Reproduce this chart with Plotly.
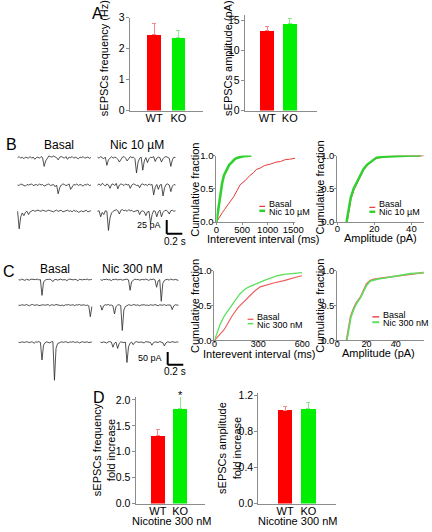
import plotly.graph_objects as go

W, H = 432, 532
FONT = "Liberation Sans, Arial, sans-serif"

# ---------------- data ----------------
groups = ["WT", "KO"]
freq_mean = [2.45, 2.35]
freq_sem = [0.35, 0.24]
amp_mean = [13.3, 14.5]
amp_sem = [0.75, 0.8]
fold_freq_mean = [1.31, 1.83]
fold_freq_sem = [0.11, 0.23]
fold_amp_mean = [1.03, 1.05]
fold_amp_sem = [0.04, 0.07]

# cumulative distributions, panel B (Nic 10 uM)
b_int_basal_x = [0, 30, 60, 114, 160, 209, 270, 336, 400, 462, 557, 652, 720, 778, 850, 937, 1050, 1158, 1250, 1348, 1430, 1506, 1540]
b_int_basal_y = [0, 0.04, 0.08, 0.14, 0.19, 0.24, 0.31, 0.38, 0.47, 0.56, 0.62, 0.70, 0.74, 0.79, 0.81, 0.85, 0.87, 0.90, 0.91, 0.94, 0.945, 0.955, 0.96]
b_int_nic_x = [0, 20, 38, 60, 82, 110, 146, 180, 209, 250, 304, 350, 399, 450, 525, 600, 683]
b_int_nic_y = [0, 0.10, 0.21, 0.34, 0.46, 0.58, 0.70, 0.76, 0.80, 0.86, 0.90, 0.94, 0.965, 0.98, 0.99, 0.995, 1.0]
b_amp_basal_x = [5.3, 6.2, 7.4, 9.0, 10.8, 12.5, 14.3, 16.0, 17.8, 19.5, 21.5, 25, 30, 35, 40, 46.5]
b_amp_basal_y = [0, 0.15, 0.35, 0.49, 0.60, 0.70, 0.79, 0.85, 0.90, 0.94, 0.96, 0.98, 0.99, 0.995, 1.0, 1.0]
b_amp_nic_x = [5.0, 5.9, 7.2, 8.8, 10.7, 12.4, 14.2, 16.0, 17.7, 19.5, 21.2, 25, 30, 35, 40, 45]
b_amp_nic_y = [0, 0.15, 0.36, 0.50, 0.61, 0.71, 0.80, 0.86, 0.90, 0.94, 0.97, 0.98, 0.99, 0.995, 1.0, 1.0]

# cumulative distributions, panel C (Nic 300 nM)
c_int_basal_x = [0, 20, 40, 63, 85, 120, 161, 200, 237, 275, 313, 360, 411, 476, 520, 574, 600]
c_int_basal_y = [0, 0.05, 0.10, 0.145, 0.22, 0.35, 0.47, 0.55, 0.64, 0.71, 0.77, 0.80, 0.83, 0.86, 0.89, 0.92, 0.93]
c_int_nic_x = [0, 20, 41, 70, 106, 140, 171, 200, 226, 260, 302, 350, 389, 430, 476, 530, 574, 600]
c_int_nic_y = [0, 0.12, 0.24, 0.36, 0.47, 0.57, 0.66, 0.72, 0.76, 0.79, 0.83, 0.87, 0.90, 0.93, 0.95, 0.96, 0.97, 0.975]
c_amp_basal_x = [6.3, 7.5, 9.1, 11, 13, 15.8, 18, 20, 22.4, 25, 28, 31.3, 35, 40, 44.7, 50, 56.7, 59]
c_amp_basal_y = [0, 0.15, 0.34, 0.45, 0.54, 0.62, 0.73, 0.81, 0.86, 0.88, 0.89, 0.90, 0.91, 0.93, 0.94, 0.96, 0.97, 0.975]
c_amp_nic_x = [6.6, 7.7, 9.3, 11.2, 13.2, 15.8, 18, 20, 22.4, 25, 28, 30.5, 32, 35, 40, 44.7, 50, 56.7, 59]
c_amp_nic_y = [0, 0.14, 0.33, 0.44, 0.53, 0.61, 0.71, 0.79, 0.85, 0.87, 0.885, 0.89, 0.895, 0.91, 0.93, 0.94, 0.96, 0.97, 0.975]

# current traces (pA), sampled every 0.02 s
trace_dt = 0.02
b_basal_1 = [0,2,-1,1,-2,1,0,-1,2,-1,1,-3,0,1,-1,2,0,-16,-6,-1,3,2,1,3,2,0,-4,1,2,0,-1,2,-3,1,0,2,-1,1,0,-2,1,0,2,-1,0,1,-1,0]
b_nic_1 = [1,-1,2,0,-2,1,-14,-4,0,2,-1,1,0,-3,-8,-2,1,2,-1,-6,-1,2,0,1,-2,-28,-8,-1,1,-23,-6,0,-9,-2,1,0,2,-7,-1,1,0,-8,-2,1,2,0,-1,-16,-4,1,0]
b_basal_2 = [0,-1,2,1,0,-2,1,0,1,2,-1,0,1,-1,2,0,1,-2,0,1,2,-1,0,1,-3,0,-16,-5,0,2,1,-1,0,2,-8,-2,1,0,2,-1,1,0,-2,1,0,2,-1,0]
b_nic_2 = [0,2,-1,3,1,-2,2,0,-6,1,2,-1,3,-7,0,2,1,-1,2,0,1,-6,0,2,1,-1,0,-5,1,2,0,1,-1,2,0,1,-18,-4,1,-8,0,1,-20,-5,1,2,0,-12,-2,1,0]
b_basal_3 = [0,-32,-10,-3,-8,-2,0,-6,-1,1,2,0,1,2,1,0,2,1,0,1,2,1,0,-1,1,2,0,1,2,-1,0,1,2,0,1,-1,2,0,1,-2,0,1,-1,0,2,-1,0,1]
b_nic_3 = [0,1,-10,-2,-6,1,0,-35,-12,-3,0,2,3,1,-5,2,3,1,2,0,3,1,2,-1,0,1,2,-6,0,1,-1,-8,-1,0,-22,-6,1,0,-10,-1,2,-10,-2,1,2,0,-5,1,2,0,1]
c_basal_1 = [0,-2,2,0,-3,1,0,-2,2,1,-1,0,2,-1,0,-62,-10,-2,1,0,2,-1,-8,0,1,-2,0,2,-1,1,0,-4,1,2,0,-1,1,0,-5,2,0,-1,1,0,2,-1,0,1]
c_nic_1 = [0,-3,1,0,2,-1,0,-4,1,0,2,-1,0,1,-2,0,1,2,-1,-42,-8,-1,2,0,1,-2,0,1,-1,2,0,-3,1,0,2,-1,-30,-5,0,-85,-15,-3,0,1,-2,2,0,-1,1,0,-3]
c_basal_2 = [0,-2,1,0,-1,2,0,-3,1,2,-1,0,1,-2,0,2,1,-1,0,2,-3,1,0,-1,2,0,1,-2,0,-3,1,0,2,-1,0,1,-2,1,0,2,-1,0,1,-2,0,-3,-46,-6]
c_nic_2 = [0,-20,-3,1,0,2,-1,0,-3,-35,-6,0,1,-2,-100,-20,-6,-1,1,0,-2,2,0,-1,1,-3,0,2,1,-1,0,-2,1,0,-1,2,0,-3,1,0,-1,2,-2,0,1,0,-18,-3,1,0,-1]
c_basal_3 = [0,-2,1,0,-1,2,0,-2,1,0,-4,1,0,2,-1,-70,-12,-2,1,0,-3,1,2,-150,-25,-6,-2,0,1,-1,2,0,-2,1,0,2,-1,0,1,-3,0,2,-1,0,1,-2,0,1]
c_nic_3 = [0,-2,1,0,-3,1,2,0,-20,-4,0,-25,-5,1,0,-2,0,-80,-18,-4,0,-10,-1,2,0,-1,1,0,-3,2,0,1,-1,-12,-2,1,0,-1,2,0,-2,-15,-3,1,0,-1,2,0,-1,1,0]

# ---------------- helpers ----------------
def xd(a, b):
    return [a / W, b / W]

def yd(top, bottom):
    return [1 - bottom / H, 1 - top / H]

def px(x):
    return x / W

def py(y):
    return 1 - y / H

def aid(i):
    return "" if i == 1 else str(i)

fig = go.Figure()
layout = {}
annotations = []
shapes = []

AXC = "#8c8c8c"
RED, GREEN = "#ff0000", "#00ee00"
ERR_RED, ERR_GREEN = "#f28a8a", "#8ee88e"

def ann(text, x, y, size=10, angle=0, xanchor="center", yanchor="middle", xref="paper", yref="paper"):
    annotations.append(dict(text=text, x=x, y=y, xref=xref, yref=yref, showarrow=False,
                            textangle=angle, xanchor=xanchor, yanchor=yanchor,
                            font=dict(size=size, color="black", family=FONT)))

def bar_axes(i, xdom, ydom, xrange, yrange, tickvals, tickfmt=None):
    layout["xaxis" + aid(i)] = dict(domain=xdom, range=xrange, anchor="y" + aid(i),
                                    showline=True, linecolor=AXC, linewidth=1, ticks="",
                                    tickvals=[0, 1], ticktext=groups, showgrid=False, zeroline=False,
                                    ticklabelstandoff=-3,
                                    tickfont=dict(size=11, family=FONT, color="black"))
    layout["yaxis" + aid(i)] = dict(domain=ydom, range=yrange, anchor="x" + aid(i),
                                    showline=True, linecolor=AXC, linewidth=1, ticks="outside",
                                    ticklen=3, tickcolor=AXC, tickvals=tickvals, tickformat=tickfmt,
                                    showgrid=False, zeroline=False, ticklabelstandoff=-1,
                                    tickfont=dict(size=10.5, family=FONT, color="black"))

def bars(i, means, sems, width):
    for k, (c, ec) in enumerate([(RED, ERR_RED), (GREEN, ERR_GREEN)]):
        fig.add_trace(go.Bar(x=[k], y=[means[k]], width=width, marker=dict(color=c, line_width=0),
                             error_y=dict(type="data", array=[sems[k]], arrayminus=[0], symmetric=False,
                                          color=ec, thickness=1, width=2),
                             xaxis="x" + aid(i), yaxis="y" + aid(i), showlegend=False, hoverinfo="skip"))

def cum_axes(i, xdom, ydom, xrange, xticks, xstandoff, xfont):
    layout["xaxis" + aid(i)] = dict(domain=xdom, range=xrange, anchor="y" + aid(i),
                                    showline=True, linecolor=AXC, linewidth=1, ticks="outside",
                                    ticklen=2, tickcolor=AXC, tickvals=xticks, showgrid=False, zeroline=False,
                                    ticklabelstandoff=xstandoff,
                                    tickfont=dict(size=xfont, family=FONT, color="black"))
    layout["yaxis" + aid(i)] = dict(domain=ydom, range=[0, 1.0], anchor="x" + aid(i),
                                    showline=True, linecolor=AXC, linewidth=1, ticks="outside",
                                    ticklen=2, tickcolor=AXC, tickvals=[0, 0.5, 1.0], tickformat=".1f",
                                    showgrid=False, zeroline=False, ticklabelstandoff=-2,
                                    tickfont=dict(size=9.5, family=FONT, color="black"))

def cum_line(i, x, y, color, width):
    fig.add_trace(go.Scatter(x=x, y=y, mode="lines", line=dict(color=color, width=width),
                             xaxis="x" + aid(i), yaxis="y" + aid(i), showlegend=False,
                             hoverinfo="skip", cliponaxis=False))

def legend_key(x0, x1, y_red, y_green, xt, yt_red, yt_green, label2, wr, wg, cr, cg):
    shapes.append(dict(type="line", xref="paper", yref="paper", x0=px(x0), x1=px(x1),
                       y0=py(y_red), y1=py(y_red), line=dict(color=cr, width=wr)))
    shapes.append(dict(type="line", xref="paper", yref="paper", x0=px(x0), x1=px(x1),
                       y0=py(y_green), y1=py(y_green), line=dict(color=cg, width=wg)))
    ann("Basal", px(xt), py(yt_red), size=9, xanchor="left")
    ann(label2, px(xt), py(yt_green), size=9, xanchor="left")

# ---------------- panel A ----------------
bar_axes(1, xd(130, 205), yd(12, 107), [-1, 2], [0, 3], [0, 1, 2, 3])
bars(1, freq_mean, freq_sem, 0.56)
bar_axes(2, xd(248, 322), yd(9, 107), [-1, 2.2], [0, 16], [0, 5, 10, 15])
bars(2, amp_mean, amp_sem, 0.6)
ann("A", px(97), py(8), size=16)
ann("sEPSCs frequency (Hz)", px(103), py(53), size=11, angle=-90)
ann("sEPSCs amplitude (pA)", px(231), py(53), size=11, angle=-90)

# ---------------- panel B cumulative ----------------
B_RED, B_GREEN = "#e23a3a", "#2fd12f"
cum_axes(3, xd(219, 300), yd(153, 221), [0, 1540], [0, 500, 1000, 1500], -3, 9.5)
cum_line(3, b_int_basal_x, b_int_basal_y, B_RED, 1.0)
cum_line(3, b_int_nic_x, b_int_nic_y, B_GREEN, 2.6)
cum_axes(4, xd(343, 432), yd(153, 221), [0, 46.8], [0, 20, 40], -4, 9.5)
cum_line(4, b_amp_basal_x, b_amp_basal_y, B_RED, 1.2)
cum_line(4, b_amp_nic_x, b_amp_nic_y, B_GREEN, 2.4)
legend_key(263, 269, 205, 209.5, 271, 202.5, 210.5, "Nic 10 µM", 1.2, 2.4, B_RED, B_GREEN)
legend_key(376, 382, 206, 210.5, 384, 202.5, 211, "Nic 10 µM", 1.2, 2.4, B_RED, B_GREEN)
ann("Cumulative fraction", px(197), py(188), size=11, angle=-90)
ann("Cumulative fraction", px(325), py(186), size=11, angle=-90)
ann("Interevent interval (ms)", px(267), py(238), size=11)
ann("Amplitude (pA)", px(387), py(237), size=11)

# ---------------- panel C cumulative ----------------
C_RED, C_GREEN = "#ee5a5a", "#5ee05e"
cum_axes(5, xd(217, 307), yd(271, 342), [0, 600], [0, 300, 600], -7, 9)
cum_line(5, c_int_basal_x, c_int_basal_y, C_RED, 1.1)
cum_line(5, c_int_nic_x, c_int_nic_y, C_GREEN, 1.3)
cum_axes(6, xd(343, 432), yd(271, 342), [0, 59.3], [0, 20, 40], -7, 9)
cum_line(6, c_amp_basal_x, c_amp_basal_y, C_RED, 1.6)
cum_line(6, c_amp_nic_x, c_amp_nic_y, C_GREEN, 1.6)
legend_key(251, 257, 320.5, 325, 259, 318.5, 326, "Nic 300 nM", 1.3, 1.5, C_RED, C_GREEN)
legend_key(379, 386, 318, 323.5, 388, 316, 324.5, "Nic 300 nM", 1.6, 2.0, C_RED, C_GREEN)
ann("Cumulative fraction", px(197), py(307), size=11, angle=-90)
ann("Cumulative fraction", px(325), py(307), size=11, angle=-90)
ann("Interevent interval (ms)", px(263), py(356), size=11)
ann("Amplitude (pA)", px(385), py(355.5), size=11)

# ---------------- panel D ----------------
bar_axes(7, xd(136, 207), yd(400, 509), [-1, 2.1], [0, 2.057], [0, 0.5, 1.0, 1.5, 2.0], ".1f")
bars(7, fold_freq_mean, fold_freq_sem, 0.65)
bar_axes(8, xd(262, 342), yd(396, 509), [-1.15, 2.2], [0, 1.222], [0, 0.4, 0.8, 1.2], ".1f")
bars(8, fold_amp_mean, fold_amp_sem, 0.63)
ann("D", px(98), py(401), size=16)
ann("sEPSCs frequency<br>fold increase", px(103), py(454), size=11, angle=-90)
ann("sEPSCs amplitude<br>fold increase", px(232), py(452), size=11, angle=-90)
ann("Nicotine 300 nM", px(173), py(527), size=11)
ann("Nicotine 300 nM", px(303), py(527), size=11)
ann("*", 1, py(398), size=11, xref="x7", yref="paper")

# ---------------- traces B ----------------
TRC = "#262626"
def trace_axes(i, ydom, yrange):
    layout["xaxis" + aid(i)] = dict(domain=xd(10, 190), range=[-0.0625, 2.1875], anchor="y" + aid(i),
                                    visible=False, showgrid=False, zeroline=False)
    layout["yaxis" + aid(i)] = dict(domain=ydom, range=yrange, anchor="x" + aid(i),
                                    visible=False, showgrid=False, zeroline=False)

def draw_trace(i, vals, t0, y0):
    fig.add_trace(go.Scatter(x=[t0 + k * trace_dt for k in range(len(vals))],
                             y=[y0 + v for v in vals], mode="lines",
                             line=dict(color=TRC, width=0.8), xaxis="x" + aid(i), yaxis="y" + aid(i),
                             showlegend=False, hoverinfo="skip", cliponaxis=False))

trace_axes(9, yd(135, 245), [36 - 110 / 0.56, 36])
b_rows = [0, -50, -98]
for row, (bv, nv) in enumerate([(b_basal_1, b_nic_1), (b_basal_2, b_nic_2), (b_basal_3, b_nic_3)]):
    draw_trace(9, bv, 0.0, b_rows[row])
    draw_trace(9, nv, 1.025, b_rows[row])
# scale bar 25 pA / 0.2 s
sb_t, sb_y = 1.9125, -139.0
shapes.append(dict(type="line", xref="x9", yref="y9", x0=sb_t, x1=sb_t, y0=sb_y, y1=sb_y + 25,
                   line=dict(color="black", width=2)))
shapes.append(dict(type="line", xref="x9", yref="y9", x0=sb_t, x1=sb_t + 0.2, y0=sb_y, y1=sb_y,
                   line=dict(color="black", width=2)))
ann("25 pA", sb_t - 0.05, sb_y + 16, size=9, xanchor="right", xref="x9", yref="y9")
ann("0.2 s", sb_t + 0.1, sb_y - 14, size=10, xref="x9", yref="y9")
ann("B", px(9), py(142), size=16)
ann("Basal", px(57), py(142), size=12)
ann("Nic 10 µM", px(137), py(142), size=12)

# ---------------- traces C ----------------
trace_axes(10, yd(262, 392), [69 - 500, 69])
c_rows = [0, -100, -246]
for row, (bv, nv) in enumerate([(c_basal_1, c_nic_1), (c_basal_2, c_nic_2), (c_basal_3, c_nic_3)]):
    draw_trace(10, bv, 0.0125, c_rows[row])
    draw_trace(10, nv, 1.0625, c_rows[row])
sc_t, sc_y = 1.925, -335.0
shapes.append(dict(type="line", xref="x10", yref="y10", x0=sc_t, x1=sc_t, y0=sc_y, y1=sc_y + 50,
                   line=dict(color="black", width=2)))
shapes.append(dict(type="line", xref="x10", yref="y10", x0=sc_t, x1=sc_t + 0.2, y0=sc_y, y1=sc_y,
                   line=dict(color="black", width=2)))
ann("50 pA", sc_t - 0.05, sc_y + 27, size=9, xanchor="right", xref="x10", yref="y10")
ann("0.2 s", sc_t + 0.1, sc_y - 26, size=10, xref="x10", yref="y10")
ann("C", px(6), py(272), size=16)
ann("Basal", px(53), py(269), size=12)
ann("Nic 300 nM", px(133), py(269), size=12)

layout.update(dict(width=W, height=H, margin=dict(l=0, r=0, t=0, b=0),
                   paper_bgcolor="white", plot_bgcolor="white",
                   font=dict(family=FONT, color="black"),
                   annotations=annotations, shapes=shapes, showlegend=False, bargap=0))
fig.update_layout(**layout)
fig.write_html("out.html", config={"displayModeBar": False, "staticPlot": True},
               post_script="document.body.style.margin='0';document.body.style.overflow='hidden';")
